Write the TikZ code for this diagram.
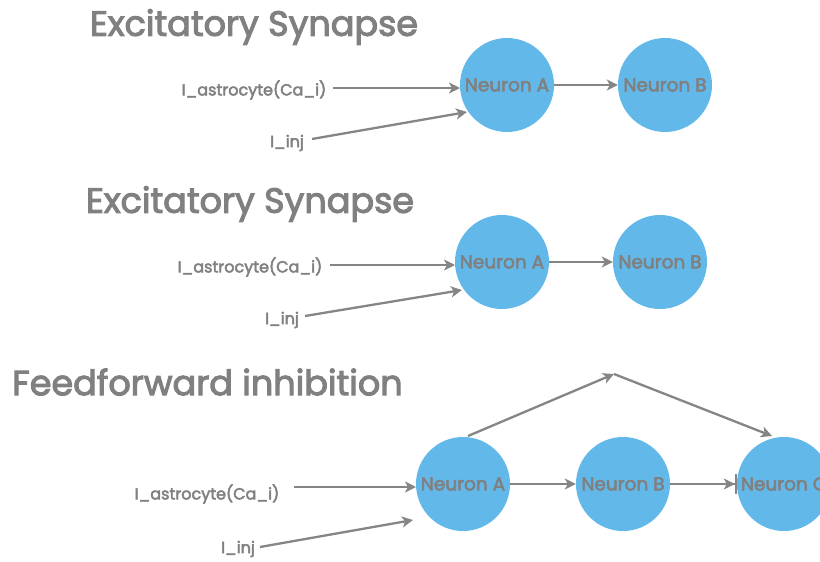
\documentclass[tikz,border=0pt]{standalone}
\usepackage{fontspec}
\setmainfont{Poppins}
\newfontfamily\medfont{Poppins}[FakeBold=3]
\usetikzlibrary{arrows.meta}
\definecolor{txtgray}{HTML}{808080}
\definecolor{linegray}{HTML}{858585}
\definecolor{neuronblue}{HTML}{62B9E9}
\tikzset{
  neuron/.style={circle,fill=neuronblue,minimum size=94pt,inner sep=0pt,text=txtgray,font=\medfont\fontsize{18.5}{18}\selectfont},
  title/.style={text=txtgray,font=\medfont\fontsize{35}{35}\selectfont,inner sep=0pt},
  inlabel/.style={text=txtgray,font=\medfont\fontsize{16}{16}\selectfont,inner sep=0pt},
  conn/.style={draw=linegray,line width=2.3pt,-{Stealth[length=11pt,width=11pt,inset=3pt]}},
  inhib/.style={draw=linegray,line width=2.3pt,-{Stealth[length=11pt,width=11pt,inset=3pt]Bar[width=20pt,line width=2pt]}},
}
\begin{document}
\begin{tikzpicture}[x=1pt,y=-1pt]
\useasboundingbox (0,0) rectangle (820,562);
\clip (0,0) rectangle (820,562);
% Diagram 1
\node[title] (t1) at (254,27) {Excitatory Synapse};
\node[neuron] (a1) at (507,85) {Neuron A};
\node[neuron] (b1) at (665,85) {Neuron B};
\node[inlabel] (ia1) at (254,90) {I\_astrocyte(Ca\_i)};
\node[inlabel] (ij1) at (287,143) {I\_inj};
\coordinate (ia1s) at (333,88);
\coordinate (ia1e) at (460,88);
\coordinate (ij1s) at (312,139);
\coordinate (ij1e) at (467,112);
\draw[conn] (ia1s) -- (ia1e);
\draw[conn] (ij1s) -- (ij1e);
\draw[conn] (a1.east) -- (b1.west);
% Diagram 2
\node[title] (t2) at (250,204) {Excitatory Synapse};
\node[neuron] (a2) at (502,262) {Neuron A};
\node[neuron] (b2) at (660,262) {Neuron B};
\node[inlabel] (ia2) at (250,267) {I\_astrocyte(Ca\_i)};
\node[inlabel] (ij2) at (282,320) {I\_inj};
\coordinate (ia2s) at (330,265);
\coordinate (ia2e) at (455,265);
\coordinate (ij2s) at (305,316);
\coordinate (ij2e) at (462,290);
\draw[conn] (ia2s) -- (ia2e);
\draw[conn] (ij2s) -- (ij2e);
\draw[conn] (a2.east) -- (b2.west);
% Diagram 3
\node[title,anchor=west] (t3) at (12,382) {Feedforward inhibition};
\node[neuron] (a3) at (463,484) {Neuron A};
\node[neuron] (b3) at (623,484) {Neuron B};
\node[neuron] (c3) at (784,484) {Neuron C};
\node[inlabel] (ia3) at (207,494) {I\_astrocyte(Ca\_i)};
\node[inlabel] (ij3) at (238,549) {I\_inj};
\coordinate (ia3s) at (294,487);
\coordinate (ia3e) at (416,487);
\coordinate (ij3s) at (260,547);
\coordinate (ij3e) at (413,520);
\coordinate (top) at (614,374);
\coordinate (as) at (468,436);
\coordinate (ce) at (772,436);
\draw[conn] (ia3s) -- (ia3e);
\draw[conn] (ij3s) -- (ij3e);
\draw[conn] (a3.east) -- (b3.west);
\draw[inhib] (b3.east) -- (c3.west);
\draw[conn] (as) -- (top);
\draw[conn] (top) -- (ce);
\end{tikzpicture}
\end{document}
